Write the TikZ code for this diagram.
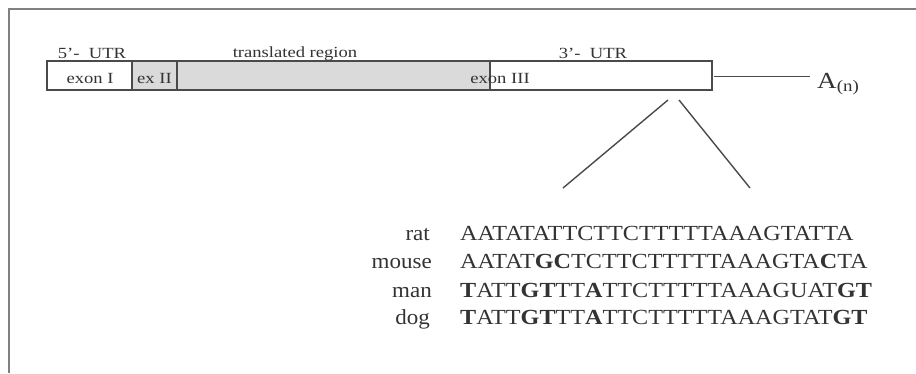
\documentclass[tikz,border=0pt]{standalone}
\usepackage{fontspec}
\setmainfont{Liberation Serif}
\definecolor{txt}{HTML}{333333}
\definecolor{ln}{HTML}{4A4A4A}
\definecolor{frm}{HTML}{808080}
\definecolor{shade}{HTML}{DADADA}
\begin{document}
\begin{tikzpicture}[x=1pt,y=-1pt,
  seg/.style={draw=ln, line width=1.4pt, inner sep=0pt, outer sep=0pt, anchor=north west, minimum height=29pt},
  lbl/.style={font=\fontsize{15.5}{17}\selectfont, text=txt, xscale=1.2, inner sep=0pt, anchor=base},
  seq/.style={font=\fontsize{21.5}{24}\selectfont, text=txt, xscale=1.125, inner sep=0pt, anchor=base west},
  sp/.style={font=\fontsize{21.5}{24}\selectfont, text=txt, xscale=1.07, inner sep=0pt, anchor=base east},
  conn/.style={draw=ln, line width=1.4pt}]
\useasboundingbox (0,0) rectangle (916,373);
\fill[white] (0,0) rectangle (916,373);
\draw[frm, line width=1.5pt] (9,373) -- (9,9) -- (916,9);

% mRNA bar
\node[seg, fill=white, minimum width=85pt] (ex1) at (47,61) {};
\node[seg, fill=shade, minimum width=45pt] (ex2) at (132,61) {};
\node[seg, fill=shade, minimum width=313pt] (tr) at (177,61) {};
\node[seg, fill=white, minimum width=222pt] (ex3) at (490,61) {};

% labels above
\node[lbl] (utr5) at (92,58) {5'-\ \ UTR};
\node[lbl] (trl) at (295,57) {translated region};
\node[lbl] (utr3) at (593,58) {3'-\ \ UTR};

% labels inside
\node[lbl] (l1) at (90,83) {exon I};
\node[lbl] (l2) at (154.5,83) {ex II};
\node[lbl] (l3) at (500,83) {exon III};

% poly A tail
\node[font=\fontsize{23}{26}\selectfont, text=txt, xscale=1.18, inner sep=0pt, anchor=base west] (polyA) at (817,88) {A\textsubscript{(n)}};
\draw[conn] ([xshift=2pt,yshift=-1pt]ex3.east) -- ([xshift=-7pt,yshift=-1pt]polyA.west |- ex3.east);

% zoom lines
\coordinate (z0) at (668,100);
\coordinate (z1) at (563,188);
\coordinate (z2) at (679,100);
\coordinate (z3) at (750,188);
\draw[conn] (z0) -- (z1);
\draw[conn] (z2) -- (z3);

% species
\node[sp] (rat) at (430,240) {rat};
\node[sp] (mouse) at (432,268) {mouse};
\node[sp] (man) at (432,297) {man};
\node[sp] (dog) at (430,324) {dog};

% sequences
\node[seq] (srat) at (460,240) {AATATATTCTTCTTTTTAAAGTATTA};
\node[seq] (smouse) at (460,268) {AATAT\textbf{GC}TCTTCTTTTTAAAGTA\textbf{C}TA};
\node[seq] (sman) at (460,297) {\textbf{T}ATT\textbf{GT}TT\textbf{A}TTCTTTTTAAAGUAT\textbf{GT}};
\node[seq] (sdog) at (460,324) {\textbf{T}ATT\textbf{GT}TT\textbf{A}TTCTTTTTAAAGTAT\textbf{GT}};
\end{tikzpicture}
\end{document}
